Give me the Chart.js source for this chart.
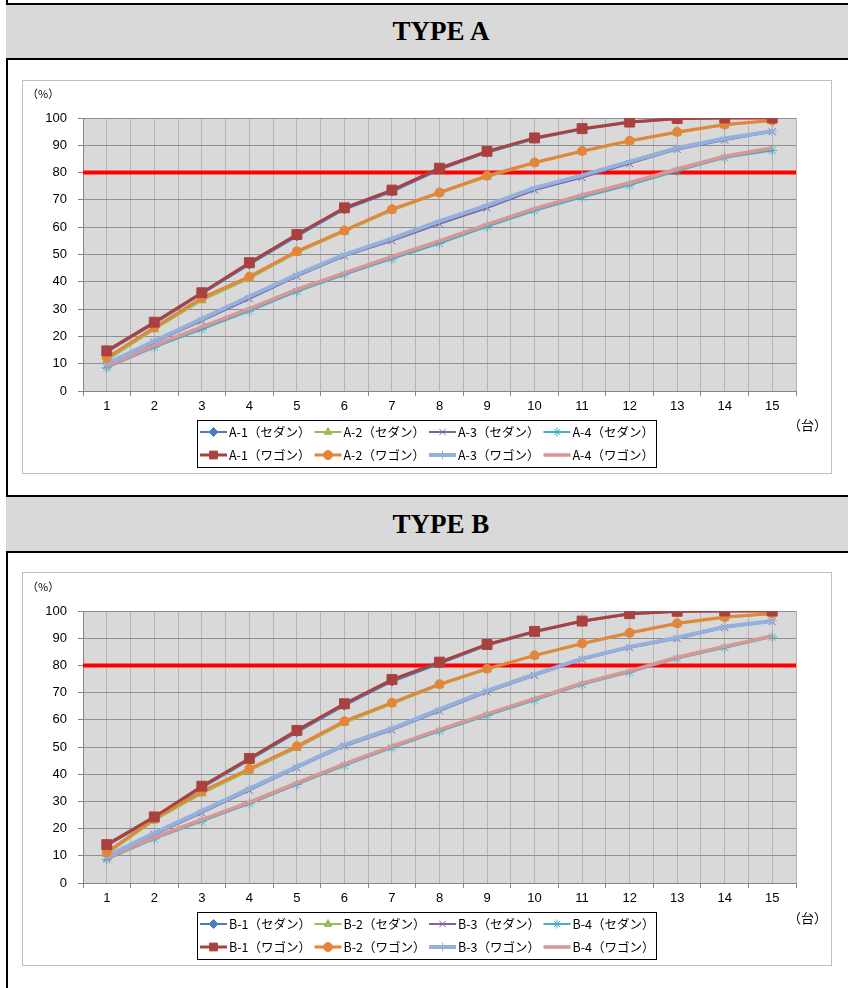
<!DOCTYPE html>
<html>
<head>
<meta charset="utf-8">
<script src="https://cdn.jsdelivr.net/npm/chart.js@4"></script>
<style>
  html,body{margin:0;padding:0;background:#fff;}
  body{width:848px;height:988px;overflow:hidden;position:relative;font-family:"Noto Sans CJK JP","Liberation Sans",sans-serif;}
  .vline{position:absolute;left:6px;top:0;width:2px;height:988px;background:#000;}
  .hdr{position:absolute;left:6px;width:880px;background:#d9d9d9;border-top:2px solid #000;border-bottom:2px solid #000;}
  .hdr span{position:absolute;left:-6px;width:882px;top:0;bottom:0;display:flex;align-items:center;justify-content:center;
    font-family:"Liberation Serif","Times New Roman",serif;font-weight:bold;font-size:27px;color:#000;}
  .box{position:absolute;left:22px;width:808px;height:392px;border:1px solid #bfbfbf;background:#fff;}
  .box canvas{position:absolute;left:0;top:0;}
  .unit{position:absolute;color:#000;font-family:"Noto Sans CJK JP",sans-serif;white-space:nowrap;}
</style>
</head>
<body>
<div class="vline"></div>
<div class="hdr" style="top:3px;height:53px;"><span>TYPE A</span></div>
<div class="hdr" style="top:495px;height:54px;"><span>TYPE B</span></div>

<div class="box" style="top:80px;"><canvas id="chartA" width="808" height="392"></canvas>
  <div class="unit" style="left:4px;top:4px;font-size:11px;">（%）</div>
  <div class="unit" style="left:765px;top:334px;font-size:13px;">（台）</div>
</div>
<div class="box" style="top:572px;"><canvas id="chartB" width="808" height="392"></canvas>
  <div class="unit" style="left:4px;top:5px;font-size:11px;">（%）</div>
  <div class="unit" style="left:765px;top:335px;font-size:13px;">（台）</div>
</div>

<script>
// ---------------- DATA ----------------
const categories = [1,2,3,4,5,6,7,8,9,10,11,12,13,14,15];
const yTicks = [0,10,20,30,40,50,60,70,80,90,100];
const targetValue = 80;

const labelsA = ['A-1（セダン）','A-2（セダン）','A-3（セダン）','A-4（セダン）',
                 'A-1（ワゴン）','A-2（ワゴン）','A-3（ワゴン）','A-4（ワゴン）'];
const labelsB = ['B-1（セダン）','B-2（セダン）','B-3（セダン）','B-4（セダン）',
                 'B-1（ワゴン）','B-2（ワゴン）','B-3（ワゴン）','B-4（ワゴン）'];

const A1_sedan = [14.2,24.7,35.6,46.3,56.6,66.5,73.0,81.0,87.3,92.3,95.8,98.3,99.6,99.9,100];
const A2_sedan = [11.2,22.6,33.2,41.2,50.6,58.4,66.1,72.4,78.4,83.4,87.6,91.4,94.6,97.3,99.0];
const A3_sedan = [9.4,17.8,25.7,33.8,42.0,49.4,55.0,61.2,67.0,73.6,78.2,83.3,88.5,91.9,95.0];
const A4_sedan = [8.5,16.0,22.6,29.3,36.4,42.6,48.4,54.0,60.2,66.0,71.0,75.4,80.6,85.4,88.1];
const A1_wagon = [14.7,25.2,36.0,47.0,57.3,67.1,73.6,81.6,87.8,92.7,96.1,98.5,99.8,100,100];
const A2_wagon = [12.2,23.3,34.1,41.9,51.2,58.8,66.6,72.7,78.9,83.7,87.9,91.7,94.9,97.6,99.1];
const A3_wagon = [10.0,18.3,26.4,34.6,42.6,50.0,55.8,62.2,68.0,74.4,79.0,84.0,89.0,92.5,95.2];
const A4_wagon = [9.0,16.7,23.5,30.2,37.2,43.3,49.2,55.0,61.0,66.8,71.8,76.3,81.3,86.0,89.0];

const B1_sedan = [13.6,23.8,35.0,45.2,55.4,65.2,74.0,80.6,87.3,92.2,96.0,98.8,99.7,99.9,100];
const B2_sedan = [10.6,23.0,32.9,41.3,49.6,58.9,65.8,72.7,78.5,83.4,87.8,91.7,95.2,97.5,98.9];
const B3_sedan = [9.2,17.8,25.8,34.1,42.3,50.3,56.2,63.2,70.2,76.3,82.2,86.5,89.8,93.9,96.1];
const B4_sedan = [8.6,16.2,22.7,29.1,36.2,43.2,49.7,55.8,61.6,67.2,73.0,77.5,82.5,86.5,90.4];
const B1_wagon = [14.1,24.3,35.6,45.8,56.1,65.9,74.8,81.2,87.7,92.5,96.3,99.0,99.9,100,100];
const B2_wagon = [11.3,23.6,33.7,42.0,50.3,59.5,66.3,73.1,78.8,83.7,88.1,92.0,95.5,97.8,99.1];
const B3_wagon = [9.8,18.4,26.4,34.7,42.8,50.8,56.8,63.8,70.7,76.7,82.5,86.8,90.2,94.2,96.3];
const B4_wagon = [9.1,16.8,23.3,29.7,36.8,43.8,50.3,56.4,62.2,67.8,73.5,78.0,83.0,87.0,90.8];

// ---------------- STYLES ----------------
const seriesStyles = [
  {color:'#4a7ebb', point:'rectRot',  radius:4.5, width:2,   pbw:1, order:2},
  {color:'#9bbb59', point:'triangle', radius:5,   width:2,   pbw:1, order:2},
  {color:'#7e62a1', point:'crossRot', radius:5,   width:2,   pbw:1, order:2},
  {color:'#4bacc6', point:'star',     radius:5,   width:2,   pbw:1, order:2},
  {color:'#a9423f', point:'rect',     radius:7,   width:3,   pbw:1, order:1},
  {color:'#e3853b', point:'circle',   radius:4.5, width:3,   pbw:1, order:1},
  {color:'#93b1dc', point:'cross',    radius:5,   width:4,   pbw:1, order:1},
  {color:'#d99694', point:false,      radius:0,   width:3.5, pbw:1, order:1}
];

const FONT = {family:'"Liberation Sans", Arial, sans-serif', size:13};

function makeDatasets(labels, series){
  return series.map((vals,i)=>{
    const s = seriesStyles[i];
    return {
      label: labels[i],
      data: vals.map((v,k)=>({x:categories[k], y:v})),
      borderColor: s.color, backgroundColor: s.color,
      borderWidth: s.width,
      pointStyle: s.point, pointRadius: s.radius, pointHoverRadius: s.radius,
      pointBorderWidth: s.pbw, pointBackgroundColor: s.color, pointBorderColor: s.color,
      tension: 0, order: s.order, fill:false
    };
  });
}

const plotBg = { id:'plotBg', beforeDraw(chart){
  const {ctx, chartArea:a} = chart;
  ctx.save(); ctx.fillStyle='#d9d9d9'; ctx.fillRect(a.left,a.top,a.width,a.height); ctx.restore();
}};

const targetLine = { id:'targetLine', beforeDatasetsDraw(chart){
  const {ctx, chartArea:a} = chart;
  const y = chart.scales.y.getPixelForValue(targetValue);
  ctx.save(); ctx.strokeStyle='#ff0000'; ctx.lineWidth=4;
  ctx.beginPath(); ctx.moveTo(a.left, y); ctx.lineTo(a.right, y); ctx.stroke(); ctx.restore();
}};

const boxLegend = { id:'boxLegend', afterDraw(chart){
  const ctx = chart.ctx;
  const x0 = 174, y0 = 339, w = 459, h = 47;
  ctx.save();
  ctx.strokeStyle = '#000'; ctx.lineWidth = 1;
  ctx.strokeRect(x0+0.5, y0+0.5, w, h);
  ctx.font = '12.5px "Noto Sans CJK JP", sans-serif';
  ctx.textBaseline = 'middle'; ctx.fillStyle = '#000';
  chart.data.datasets.forEach((ds,i)=>{
    const row = Math.floor(i/4), col = i%4;
    const lx = x0 + 3 + col*114.5;
    const ly = y0 + 12 + row*23;
    ctx.save();
    ctx.strokeStyle = ds.borderColor; ctx.lineWidth = ds.borderWidth;
    ctx.beginPath(); ctx.moveTo(lx, ly); ctx.lineTo(lx+27, ly); ctx.stroke();
    if (ds.pointStyle && ds.pointRadius > 0) {
      ctx.fillStyle = ds.pointBackgroundColor; ctx.strokeStyle = ds.pointBorderColor; ctx.lineWidth = ds.pointBorderWidth;
      const r = ds.pointStyle==='rect' ? 5.5 : Math.min(ds.pointRadius, 4.5);
      Chart.helpers.drawPoint(ctx, {pointStyle: ds.pointStyle, radius: r, rotation: 0, borderWidth: ds.pointBorderWidth}, lx+13.5, ly);
    }
    ctx.restore();
    ctx.fillStyle = '#000';
    ctx.fillText(ds.label, lx+29, ly+0.5);
  });
  ctx.restore();
}};

function makeChart(id, labels, series, topPad){
  const xTicks = [];
  categories.forEach(c=>{ xTicks.push({value:c-0.5}); xTicks.push({value:c}); });
  xTicks.push({value:categories[categories.length-1]+0.5});
  return new Chart(document.getElementById(id), {
    type:'line',
    data:{ datasets: makeDatasets(labels, series) },
    options:{
      responsive:false, animation:false, devicePixelRatio:1,
      layout:{ padding:{ left:0, top:topPad, right:35, bottom:52 } },
      plugins:{ legend:{display:false}, tooltip:{enabled:false} },
      scales:{
        x:{ type:'linear', min:categories[0]-0.5, max:categories[categories.length-1]+0.5,
            afterBuildTicks: s => { s.ticks = xTicks.map(t=>({value:t.value})); },
            afterFit: s => { s.height = 30; },
            ticks:{ autoSkip:false, maxRotation:0, minRotation:0, padding:3, color:'#000', font:FONT,
                    callback: v => Number.isInteger(v) ? String(v) : '' },
            grid:{ color:'#b4b4b4', lineWidth:1, tickLength:5,
                   tickColor: c => (c.tick && Number.isInteger(c.tick.value)) ? 'rgba(0,0,0,0)' : '#868686' },
            border:{ color:'#868686', width:1 } },
        y:{ min:yTicks[0], max:yTicks[yTicks.length-1],
            afterBuildTicks: s => { s.ticks = yTicks.map(v=>({value:v})); },
            afterFit: s => { s.width = 60; },
            ticks:{ padding:11, color:'#000', font:FONT },
            grid:{ color:'#8f8f8f', lineWidth:1, tickLength:5, tickColor:'#868686' },
            border:{ color:'#868686', width:1 } }
      }
    },
    plugins:[plotBg, targetLine, boxLegend]
  });
}

makeChart('chartA', labelsA, [A1_sedan,A2_sedan,A3_sedan,A4_sedan,A1_wagon,A2_wagon,A3_wagon,A4_wagon], 37);
makeChart('chartB', labelsB, [B1_sedan,B2_sedan,B3_sedan,B4_sedan,B1_wagon,B2_wagon,B3_wagon,B4_wagon], 38);
</script>
</body>
</html>
